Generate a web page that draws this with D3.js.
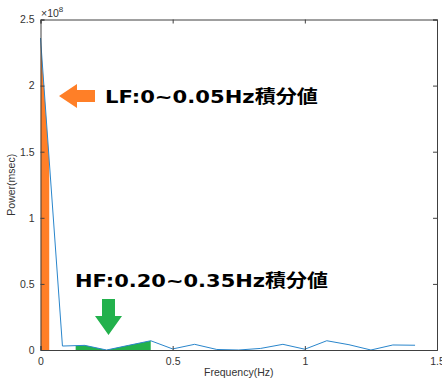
<!DOCTYPE html>
<html>
<head>
<meta charset="utf-8">
<script src="https://cdn.jsdelivr.net/npm/d3@7"></script>
<style>
  body { margin: 0; background: #fff; }
  svg { display: block; }
</style>
</head>
<body>
<div id="chart"></div>
<script>
// 周波数 (Hz)
const freq = [0, 0.083, 0.167, 0.25, 0.333, 0.417, 0.5, 0.583, 0.667,
  0.75, 0.833, 0.917, 1.0, 1.083, 1.167, 1.25, 1.333, 1.417];
// パワー
const power = [2.36e8, 0.03e8, 0.035e8, 0.0, 0.035e8, 0.07e8, 0.008e8, 0.043e8, 0.004e8,
  0.0, 0.012e8, 0.043e8, 0.006e8, 0.07e8, 0.04e8, 0.0, 0.038e8, 0.036e8];

// 塗りつぶす範囲
const lfBand = [0, 0.033];
const hfBand = [0.133, 0.417];

const xTicks = [0, 0.5, 1, 1.5];
const yTicks = [0, 0.5e8, 1e8, 1.5e8, 2e8, 2.5e8];

const lfLabel = "LF:0~0.05Hz積分値";
const hfLabel = "HF:0.20~0.35Hz積分値";

const width = 442;
const height = 380;
const pLeft = 40.5, pRight = 437, pTop = 19.5, pBottom = 350;
const axisColor = "#404040";
const tickFont = "'Liberation Sans', Arial, sans-serif";

const svg = d3.select("#chart").append("svg")
  .attr("width", width)
  .attr("height", height);

const xScale = d3.scaleLinear().domain([0, 1.5]).range([pLeft, pRight]);
const yScale = d3.scaleLinear().domain([0, 2.5e8]).range([pBottom, pTop]);

const pts = freq.map(function (f, i) {
  return { f: f, p: power[i] };
});

const area = d3.area()
  .x(function (d) { return xScale(d.f); })
  .y0(yScale(0))
  .y1(function (d) { return yScale(d.p); });

const line = d3.line()
  .x(function (d) { return xScale(d.f); })
  .y(function (d) { return yScale(d.p); });

// 積分範囲のクリップ
const defs = svg.append("defs");
function addClip(id, band) {
  defs.append("clipPath").attr("id", id)
    .append("rect")
    .attr("x", xScale(band[0]))
    .attr("y", pTop)
    .attr("width", xScale(band[1]) - xScale(band[0]))
    .attr("height", pBottom - pTop);
}
addClip("clipLF", lfBand);
addClip("clipHF", hfBand);

svg.append("path")
  .datum(pts)
  .attr("d", area)
  .attr("fill", "#ff7f27")
  .attr("clip-path", "url(#clipLF)");

svg.append("path")
  .datum(pts)
  .attr("d", area)
  .attr("fill", "#22b14c")
  .attr("clip-path", "url(#clipHF)");

svg.append("path")
  .datum(pts)
  .attr("d", line)
  .attr("fill", "none")
  .attr("stroke", "#2a86cc")
  .attr("stroke-width", 1);

// 軸
const fmtY = function (d) { return d3.format("~g")(d / 1e8); };

svg.append("g")
  .attr("transform", "translate(0," + pBottom + ")")
  .call(d3.axisBottom(xScale).tickValues(xTicks).tickSize(-4).tickPadding(8).tickFormat(d3.format("~g")));

svg.append("g")
  .attr("transform", "translate(" + pLeft + ",0)")
  .call(d3.axisLeft(yScale).tickValues(yTicks).tickSize(-4).tickPadding(6).tickFormat(fmtY));

svg.append("g")
  .attr("transform", "translate(0," + pTop + ")")
  .call(d3.axisTop(xScale).tickValues(xTicks).tickSize(-4).tickFormat(""));

svg.append("g")
  .attr("transform", "translate(" + pRight + ",0)")
  .call(d3.axisRight(yScale).tickValues(yTicks).tickSize(-4).tickFormat(""));

svg.selectAll(".domain").attr("stroke", axisColor);
svg.selectAll(".tick line").attr("stroke", axisColor);
svg.selectAll(".tick text")
  .attr("fill", "#333")
  .style("font-family", tickFont)
  .style("font-size", "10.5px");

// ×10^8
const expo = svg.append("text")
  .attr("x", pLeft + 0.5)
  .attr("y", 17)
  .attr("fill", "#333")
  .style("font-family", tickFont)
  .style("font-size", "10.5px");
expo.append("tspan").text("×10");
expo.append("tspan").attr("dy", -5).style("font-size", "8px").text("8");

// 軸ラベル
svg.append("text")
  .attr("x", (pLeft + pRight) / 2)
  .attr("y", 376)
  .attr("text-anchor", "middle")
  .attr("fill", "#333")
  .style("font-family", tickFont)
  .style("font-size", "10.5px")
  .text("Frequency(Hz)");

svg.append("text")
  .attr("transform", "translate(15," + (pTop + pBottom) / 2 + ") rotate(-90)")
  .attr("text-anchor", "middle")
  .attr("fill", "#333")
  .style("font-family", tickFont)
  .style("font-size", "10.5px")
  .text("Power(msec)");

// 矢印
svg.append("polygon")
  .attr("points", "59,96 77,84 77,90 95,90 95,102 77,102 77,108")
  .attr("fill", "#ff7f27");

svg.append("polygon")
  .attr("points", "102,299 115,299 115,316 122,316 108.5,335 95,316 102,316")
  .attr("fill", "#22b14c");

// 注釈
svg.append("text")
  .attr("x", 105)
  .attr("y", 103)
  .attr("fill", "#000")
  .attr("textLength", 213)
  .attr("lengthAdjust", "spacingAndGlyphs")
  .style("font-family", "'DejaVu Sans', 'Noto Sans CJK JP', sans-serif")
  .style("font-weight", "bold")
  .style("font-size", "18px")
  .text(lfLabel);

svg.append("text")
  .attr("x", 75)
  .attr("y", 287)
  .attr("fill", "#000")
  .attr("textLength", 253)
  .attr("lengthAdjust", "spacingAndGlyphs")
  .style("font-family", "'DejaVu Sans', 'Noto Sans CJK JP', sans-serif")
  .style("font-weight", "bold")
  .style("font-size", "18px")
  .text(hfLabel);
</script>
</body>
</html>
